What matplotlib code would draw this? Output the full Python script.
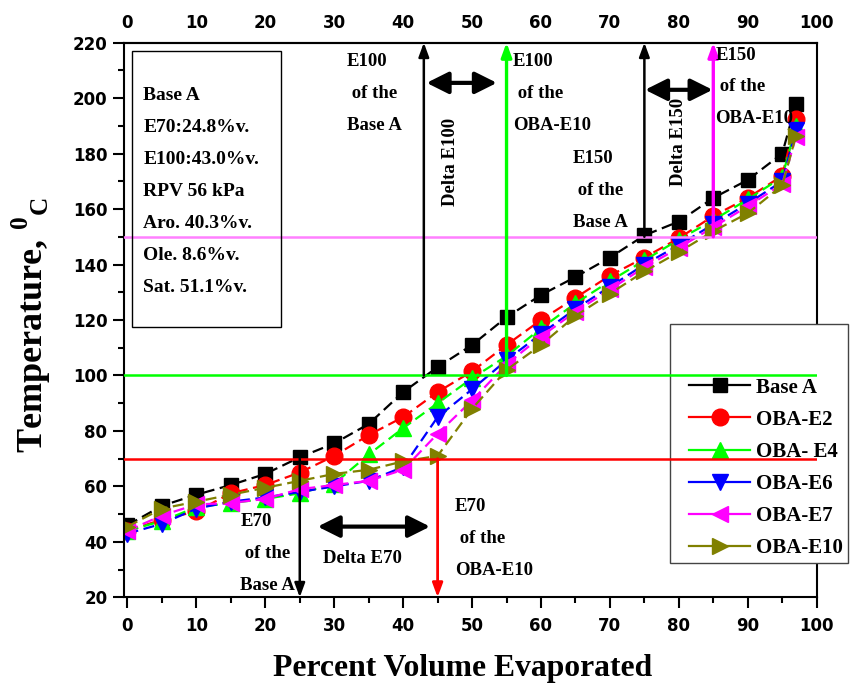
import matplotlib
matplotlib.use('Agg')
import matplotlib.pyplot as plt
from matplotlib.lines import Line2D
from matplotlib.patches import Rectangle
from matplotlib.ticker import MultipleLocator, FixedLocator

plt.rcParams['font.family'] = 'DejaVu Sans'
plt.rcParams['font.weight'] = 'bold'
plt.rcParams['mathtext.fontset'] = 'custom'
plt.rcParams['mathtext.rm'] = 'Liberation Serif:bold'
plt.rcParams['mathtext.bf'] = 'Liberation Serif:bold'

SERIF = 'Liberation Serif'

# percent evaporated
x = [0, 5, 10, 15, 20, 25, 30, 35, 40, 45, 50, 55, 60, 65, 70, 75, 80, 85, 90, 95, 97]

base_a = [46, 53, 57, 60.5, 64.5, 70.5, 75.5, 82.5, 94, 103, 111, 121, 129, 135.5, 142.5,
          150.5, 155.5, 164, 170.5, 180, 198]
oba_e2 = [44, 48, 51, 57.5, 60.5, 65, 71, 78.5, 85, 94, 101.5, 111, 120, 128, 136,
          142.5, 149.5, 157.5, 164, 172, 192.5]
oba_e4 = [44, 47.5, 52.5, 54, 55.5, 57.5, 61, 71.5, 81, 90, 99, 107, 117, 126, 134,
          141.5, 149, 156, 163.5, 171.5, 190]
oba_e6 = [43, 46.5, 52, 54.5, 56, 58, 60, 62, 67, 85, 95, 105.5, 115, 124, 132,
          140, 147, 154.5, 162, 170, 188.5]
oba_e7 = [44, 49.5, 53.5, 54, 55.5, 59, 60.5, 62, 66, 79, 91, 104, 114, 123, 131,
          139, 146, 153.5, 161, 169, 186]
oba_e10 = [45.5, 52, 54.5, 57, 59.5, 62, 64.5, 66, 69, 71, 88, 102, 111, 121.5, 129.5,
           137.5, 144.5, 152, 158.5, 168.5, 186.5]

labels = ['Base A', 'OBA-E2', 'OBA- E4', 'OBA-E6', 'OBA-E7', 'OBA-E10']
colors = ['black', 'red', '#00ff00', 'blue', '#ff00ff', '#808000']
markers = ['s', 'o', '^', 'v', '<', '>']
sizes = [10, 12, 12, 12, 12, 12]
data = [base_a, oba_e2, oba_e4, oba_e6, oba_e7, oba_e10]

info_lines = ['Base A', 'E70:24.8%v.', 'E100:43.0%v.', 'RPV 56 kPa',
              'Aro. 40.3%v.', 'Ole. 8.6%v.', 'Sat. 51.1%v.']

fig = plt.figure(figsize=(8.5, 6.88), dpi=100)
ax = fig.add_axes([0.1459, 0.1318, 0.8149, 0.8062])

for y, lab, c, m, s in zip(data, labels, colors, markers, sizes):
    ax.plot(x, y, color=c, marker=m, ms=s, mec=c, lw=1.6, dashes=(5, 2.5), zorder=2)

# reference temperatures
ax.axhline(70, color='red', lw=1.8, zorder=3)
ax.axhline(100, color='#00ff00', lw=1.8, zorder=3)
ax.axhline(150, color='#ff80ff', lw=1.8, zorder=3)

def varrow(x0, y0, y1, color, lw=1.8):
    ax.annotate('', xy=(x0, y1), xytext=(x0, y0), annotation_clip=False, zorder=4,
                arrowprops=dict(arrowstyle='-|>,head_length=0.6,head_width=0.22',
                                mutation_scale=14, lw=lw, color=color,
                                shrinkA=0, shrinkB=0))

varrow(25, 70, 20, 'black')
varrow(45, 70, 20, 'red', 2.0)
varrow(43, 100, 220, 'black')
varrow(55, 100, 220, '#00ff00', 2.4)
varrow(75, 150, 220, 'black')
varrow(85, 150, 220, '#ff00ff', 2.4)

def darrow(x0, x1, y):
    ax.annotate('', xy=(x1, y), xytext=(x0, y), zorder=4,
                arrowprops=dict(arrowstyle='<|-|>,head_length=0.6,head_width=0.3',
                                mutation_scale=22, lw=3, color='black',
                                shrinkA=0, shrinkB=0))

darrow(27.6, 43.9, 45.5)
darrow(43.4, 53.6, 205.5)
darrow(75.1, 84.9, 203)

tkw = dict(fontfamily=SERIF, fontweight='bold', fontsize=13.5, va='top',
           linespacing=2.14, ha='left', zorder=5)
ax.text(31.8, 216.3, 'E100\n of the\nBase A', **tkw)
ax.text(55.9, 216.3, 'E100\n of the\nOBA-E10', **tkw)
ax.text(64.6, 181.3, 'E150\n of the\nBase A', **tkw)
ax.text(85.3, 218.6, 'E150\n of the\nOBA-E10', **tkw)
ax.text(16.4, 50.4, 'E70\n of the\nBase A', **tkw)
ax.text(47.5, 55.8, 'E70\n of the\nOBA-E10', **tkw)
ax.text(28.3, 32.3, 'Delta E70', ha='left', fontfamily=SERIF, fontweight='bold',
        fontsize=13.5, va='baseline')
ax.text(46.8, 177, 'Delta E100', rotation=90, ha='center', va='center',
        fontfamily=SERIF, fontweight='bold', fontsize=13.5)
ax.text(79.9, 184.2, 'Delta E150', rotation=90, ha='center', va='center',
        fontfamily=SERIF, fontweight='bold', fontsize=13.5)

# info box
ax.add_patch(Rectangle((0.73, 117.5), 21.5, 99.6, fill=False, lw=1.0,
                       edgecolor='black', zorder=5))
ax.text(2.3, 204.0, '\n'.join(info_lines), ha='left', va='top', fontfamily=SERIF,
        fontweight='bold', fontsize=14, linespacing=2.15, zorder=5)

ax.set_xlim(-0.5, 100)
ax.set_ylim(20, 220)
ax.xaxis.set_major_locator(MultipleLocator(10))
ax.xaxis.set_minor_locator(MultipleLocator(5))
ax.yaxis.set_major_locator(MultipleLocator(20))
ax.yaxis.set_minor_locator(MultipleLocator(10))
ax.tick_params(which='major', length=8, width=1.5, labelsize=12, pad=4)
ax.tick_params(which='minor', length=4.5, width=1.5)
ax.tick_params(axis='x', which='both', top=False)
ax.tick_params(axis='x', which='major', pad=6)
for sp in ax.spines.values():
    sp.set_linewidth(1.5)

top = ax.secondary_xaxis('top')
top.xaxis.set_major_locator(FixedLocator(list(range(0, 101, 10))))
top.tick_params(length=0, labelsize=12, pad=8)
top.spines['top'].set_linewidth(1.5)

# legend frame drawn by hand, it sticks out past the right spine
ax.add_patch(Rectangle((0.788, 0.0618), 0.257, 0.431, transform=ax.transAxes,
                       facecolor='white', edgecolor='#444444', lw=1.0,
                       clip_on=False, zorder=2.55))
handles = [Line2D([], [], color=c, marker=m, ms=s, mec=c, lw=1.6)
           for c, m, s in zip(colors, markers, sizes)]
leg = ax.legend(handles, labels, loc='center left', bbox_to_anchor=(0.8156, 0.2331),
                frameon=False, prop={'family': SERIF, 'weight': 'bold', 'size': 15},
                handlelength=2.95, handletextpad=0.25, labelspacing=0.585,
                borderpad=0, borderaxespad=0)
leg.set_zorder(2.6)

fig.text(0.544, 0.029, 'Percent Volume Evaporated', ha='center', va='center',
         fontfamily=SERIF, fontweight='bold', fontsize=22.8)
fig.text(0.037, 0.527, r'Temperature, ${}^{\mathbf{0}}{}_{\mathbf{C}}$', rotation=90,
         ha='center', va='center', fontfamily=SERIF, fontweight='bold', fontsize=26)

fig.savefig('out.png', dpi=100)
